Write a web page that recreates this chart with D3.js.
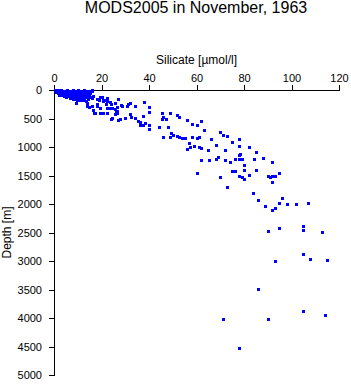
<!DOCTYPE html>
<html>
<head>
<meta charset="utf-8">
<script src="https://cdn.jsdelivr.net/npm/d3@7"></script>
<style>
  body { margin: 0; background: #fff; }
  svg text { font-family: "Liberation Sans", Arial, sans-serif; fill: #000; }
</style>
</head>
<body>
<script>
// silicate [umol/l], depth [m]
const silicate = [
  0.6,1.2,1.8,2.4,3.0,3.6,4.2,4.8,5.4,6.0,6.6,7.2,7.8,8.4,9.0,9.6,10.2,10.8,11.4,12.0,12.6,13.4,14.2,15.0,16.1,
  0.9,1.6,2.2,2.9,3.5,4.1,4.7,5.3,5.9,6.5,7.1,7.7,8.3,8.9,9.5,10.1,10.7,11.3,11.9,12.5,13.1,13.8,14.4,15.2,
  2.0,3.2,4.4,5.6,6.3,7.0,7.6,8.1,8.8,9.4,10.0,10.6,11.2,11.8,12.4,13.0,13.6,14.2,9.7,11.0,12.6,7.4,5.0,6.8,8.0,
  16.1,11.9,14.4,15.4,16.5,20.1,22.4,19.1,20.5,21.4,18.0,21.9,24.0,25.7,9.3,12.3,13.5,14.0,14.8,14.0,15.9,18.2,
  16.3,19.3,22.2,23.6,26.4,28.2,32.0,30.6,33.9,37.9,40.0,40.0,17.0,19.3,20.7,22.4,26.4,26.1,24.0,27.0,27.8,29.9,
  32.0,32.3,34.1,35.5,36.2,37.3,36.2,37.6,38.3,40.1,40.1,44.0,45.3,45.7,45.3,47.1,48.8,51.6,52.7,48.1,46.0,49.1,
  49.9,48.8,51.9,52.7,14.8,15.9,18.0,19.3,20.7,22.2,23.6,27.0,31.3,28.5,24.3,25.7,26.4,17.2,24.3,25.7,
  56.1,58.2,60.1,62.0,63.2,54.1,55.2,58.2,60.0,61.1,56.9,57.1,56.1,59.0,61.1,62.0,66.2,64.9,69.9,71.1,72.9,75.0,
  77.9,68.1,72.0,77.9,82.1,85.1,78.5,77.9,69.1,68.0,65.1,62.0,72.0,74.0,76.3,77.9,79.1,84.1,88.0,91.8,80.0,60.1,
  75.0,76.1,80.0,85.1,69.9,77.9,79.1,80.0,82.0,89.9,91.0,91.8,93.1,94.9,91.8,72.9,83.8,85.9,88.9,91.8,93.1,94.9,
  96.0,97.9,101.9,107.0,
  90.1,94.9,104.9,104.9,112.8,104.9,107.8,115.0,93.0,85.9,104.9,113.9,71.0,89.9,77.9
];
const depth = [
  5,15,8,22,4,18,10,28,6,20,12,30,8,24,14,35,6,20,12,28,8,18,10,22,6,
  35,45,55,40,62,50,70,45,60,80,55,72,90,65,85,50,75,95,60,85,45,70,88,55,
  80,90,100,95,110,125,105,140,120,150,115,135,160,120,145,110,130,150,170,180,175,95,115,140,160,
  18,12,70,118,105,118,146,175,188,175,246,246,246,233,223,175,188,281,303,223,281,281,
  351,321,310,321,293,258,223,281,281,216,303,381,409,409,409,409,409,381,509,526,514,496,
  426,468,496,538,556,456,614,614,584,614,689,644,409,468,514,514,409,439,479,644,819,760,
  789,830,807,819,105,140,153,123,181,193,210,163,251,281,310,339,368,398,486,426,
  531,596,609,549,696,847,847,819,837,830,930,1005,1035,988,1005,1023,860,1058,742,795,802,917,
  865,970,1058,988,1005,1088,1117,1140,1175,1216,1233,1228,1233,1268,1216,1216,1205,1216,1193,1258,1321,1461,
  1421,1421,1409,1398,1531,1508,1521,1566,1496,1514,1531,1508,1514,1461,1614,1701,1801,1935,2029,2110,2075,1987,
  1900,2005,2005,1987,
  2468,2426,2385,2450,2491,2882,2964,2987,3005,3496,3871,3952,4017,4022,4531
];
const xTicks = [0, 20, 40, 60, 80, 100, 120];
const yTicks = [0, 500, 1000, 1500, 2000, 2500, 3000, 3500, 4000, 4500, 5000];

const W = 351, H = 384;
const margin = {top: 90, left: 54};
const w = 285, h = 285;

const svg = d3.select("body").append("svg")
  .attr("width", W)
  .attr("height", H);

const x = d3.scaleLinear().domain([0, 120]).range([margin.left, margin.left + w]);
const y = d3.scaleLinear().domain([0, 5000]).range([margin.top, margin.top + h]);

// title
svg.append("text")
  .attr("x", 196)
  .attr("y", 13)
  .attr("text-anchor", "middle")
  .style("font-size", "16px")
  .text("MODS2005 in November, 1963");

// x axis on top
svg.append("g")
  .attr("transform", `translate(0,${margin.top})`)
  .call(d3.axisTop(x).tickValues(xTicks).tickSize(5).tickSizeOuter(0).tickPadding(3));

svg.append("g")
  .attr("transform", `translate(${margin.left},0)`)
  .call(d3.axisLeft(y).tickValues(yTicks).tickFormat(d3.format("d"))
    .tickSize(5).tickSizeOuter(0).tickPadding(7));

svg.selectAll(".tick text")
  .style("font-size", "11px")
  .style("font-family", "'Liberation Sans', Arial, sans-serif");
svg.selectAll(".domain, .tick line")
  .attr("stroke", "#000")
  .attr("shape-rendering", "crispEdges");

svg.append("text")
  .attr("x", margin.left + w / 2)
  .attr("y", 64)
  .attr("text-anchor", "middle")
  .style("font-size", "12px")
  .text("Silicate [\u00b5mol/l]");

svg.append("text")
  .attr("transform", `translate(11,${margin.top + h / 2}) rotate(-90)`)
  .attr("text-anchor", "middle")
  .style("font-size", "12px")
  .text("Depth [m]");

// points
svg.append("g")
  .selectAll("rect")
  .data(d3.range(silicate.length))
  .enter()
  .append("rect")
  .attr("x", i => Math.round(x(silicate[i])) - 1)
  .attr("y", i => Math.round(y(depth[i])) - 1)
  .attr("width", 3)
  .attr("height", 3)
  .attr("fill", "#0000ff")
  .attr("shape-rendering", "crispEdges");
</script>
</body>
</html>
